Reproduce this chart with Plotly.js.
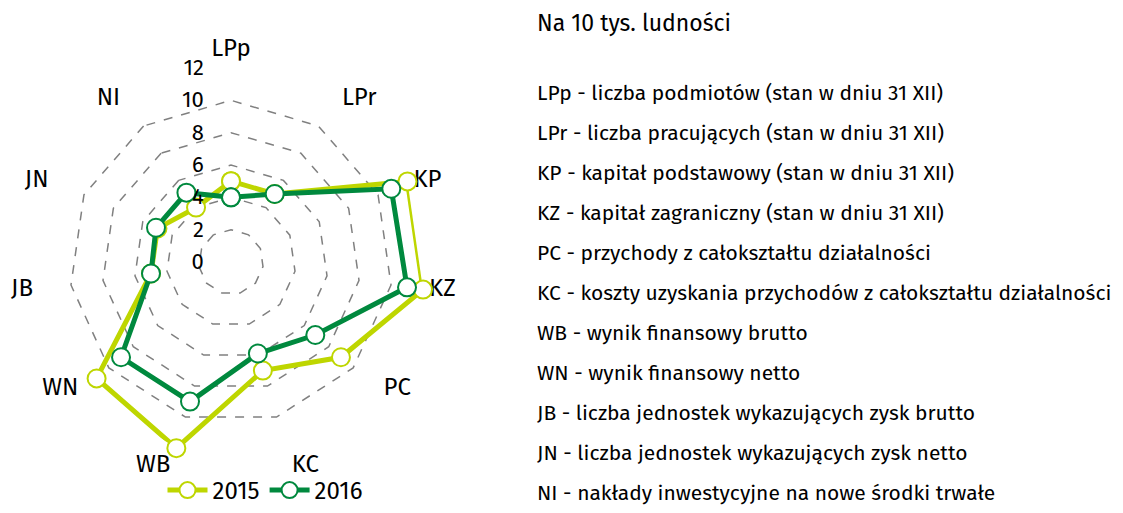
<!DOCTYPE html>
<html><head><meta charset="utf-8">
<script src="https://cdn.plot.ly/plotly-3.0.1.min.js"></script>
<style>html,body{margin:0;padding:0;background:#fff}#chart{width:1123px;height:513px}</style>
</head><body><div id="chart"></div>
<script>
const categories = ["LPp","LPr","KP","KZ","PC","KC","WB","WN","JB","JN","NI"];
const values2015 = [5.0, 5.0, 12.0, 12.0, 9.0, 7.0, 12.0, 11.0, 5.0, 5.0, 4.0];
const values2016 = [4.0, 5.0, 10.9, 11.0, 6.9, 5.9, 9.0, 9.0, 5.0, 5.1, 5.1];
const seriesNames = ["2015", "2016"];
const radialTicks = [0, 2, 4, 6, 8, 10, 12];
const legendTitle = "Na 10 tys. ludności";
const descriptions = [
  "LPp - liczba podmiotów (stan w dniu 31 XII)",
  "LPr - liczba pracujących (stan w dniu 31 XII)",
  "KP - kapitał podstawowy (stan w dniu 31 XII)",
  "KZ - kapitał zagraniczny (stan w dniu 31 XII)",
  "PC - przychody z całokształtu działalności",
  "KC - koszty uzyskania przychodów z całokształtu działalności",
  "WB - wynik finansowy brutto",
  "WN - wynik finansowy netto",
  "JB - liczba jednostek wykazujących zysk brutto",
  "JN - liczba jednostek wykazujących zysk netto",
  "NI - nakłady inwestycyjne na nowe środki trwałe"
];
// where each category label sits next to its outer vertex
const labelPositions = ["top center","middle right","middle right","middle right","middle right",
  "bottom right","bottom left","middle left","middle left","middle left","middle left"];

const FONT = "Fira Sans, 'Noto Sans', 'Open Sans', sans-serif";
const colors = ["#bed600", "#00893e"];
const rMax = Math.max(...radialTicks);

function closed(a){ return a.concat([a[0]]); }

const traces = [values2015, values2016].map((v, i) => ({
  type: "scatterpolar",
  mode: "lines+markers",
  name: seriesNames[i],
  r: closed(v),
  theta: closed(categories),
  line: {color: colors[i], width: 5},
  marker: {size: 18, color: "#ffffff", line: {color: colors[i], width: 2}},
  cliponaxis: false
}));

// category labels placed at the outer ring through the polar scale
traces.unshift({
  type: "scatterpolar",
  mode: "markers+text",
  r: categories.map(() => rMax),
  theta: categories,
  text: categories,
  textposition: labelPositions,
  textfont: {family: FONT, size: 24, color: "#000"},
  marker: {size: 8, opacity: 0},
  showlegend: false,
  hoverinfo: "skip",
  cliponaxis: false
});

const annotations = [{
  text: legendTitle, xref: "paper", yref: "paper", x: 535/1123, y: 1 - 23/513,
  xanchor: "left", yanchor: "middle", showarrow: false,
  font: {family: FONT, size: 23, color: "#000"}
}].concat(descriptions.map((d, i) => ({
  text: d, xref: "paper", yref: "paper", x: 535/1123, y: 1 - (93 + 40*i)/513,
  xanchor: "left", yanchor: "middle", showarrow: false,
  font: {family: FONT, size: 21, color: "#000"}
})));

const layout = {
  width: 1123, height: 513,
  margin: {l: 0, r: 0, t: 0, b: 0, autoexpand: false},
  paper_bgcolor: "#fff",
  font: {family: FONT, size: 20, color: "#000"},
  showlegend: true,
  legend: {orientation: "h", x: 265/1123, y: 0, xanchor: "center", yanchor: "bottom",
           font: {family: FONT, size: 24, color: "#000"}, itemwidth: 40, tracegroupgap: 0,
           borderwidth: 0, bgcolor: "rgba(0,0,0,0)"},
  polar: {
    domain: {x: [37/1123, 425/1123], y: [1 - 456/513, 1 - 68/513]},
    gridshape: "linear",
    bgcolor: "rgba(0,0,0,0)",
    radialaxis: {
      range: [0, rMax], tickvals: radialTicks, angle: 90, tickangle: 90,
      side: "counterclockwise",
      showline: false, ticks: "outside", ticklen: 19, tickcolor: "rgba(0,0,0,0)",
      gridcolor: "#808080", griddash: "dash", gridwidth: 1.5,
      tickfont: {family: FONT, size: 22, color: "#000"}
    },
    angularaxis: {
      rotation: 90, direction: "clockwise",
      showline: false, showgrid: false, ticks: "", showticklabels: false
    }
  },
  annotations: annotations
};

Plotly.newPlot("chart", traces, layout, {displayModeBar: false, staticPlot: true});
</script></body></html>
